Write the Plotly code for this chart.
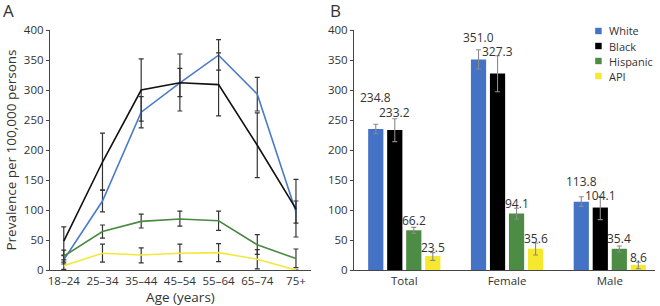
import plotly.graph_objects as go

# ---------------- data ----------------
age_groups = ["18\u201324", "25\u201334", "35\u201344", "45\u201354", "55\u201364", "65\u201374", "75+"]

white_age = [17, 115, 263, 312, 358, 293, 97]
white_age_hi = [24, 133, 289, 336, 384, 321, 115]
white_age_lo = [10, 97, 237, 289, 333, 265, 78]

black_age = [48, 180, 300, 312, 309, 208, 102]
black_age_hi = [72, 228, 352, 360, 362, 262, 151]
black_age_lo = [25, 133, 248, 265, 257, 154, 55]

hisp_age = [23, 64, 81, 85, 82, 42, 19]
hisp_age_hi = [33, 75, 93, 98, 98, 59, 35]
hisp_age_lo = [13, 53, 70, 73, 66, 26, 4]

api_age = [7, 28, 25, 28, 29, 18, 0]
api_age_hi = [17, 43, 37, 43, 44, 34, 0]
api_age_lo = [1, 13, 12, 14, 14, 2, 0]

groups = ["Total", "Female", "Male"]
race_names = ["White", "Black", "Hispanic", "API"]
white_grp = [234.8, 351.0, 113.8]
white_grp_hi = [243, 367, 122]
white_grp_lo = [227, 335, 106]
black_grp = [233.2, 327.3, 104.1]
black_grp_hi = [252, 357, 122]
black_grp_lo = [214, 297, 84]
hisp_grp = [66.2, 94.1, 35.4]
hisp_grp_hi = [71, 103, 40]
hisp_grp_lo = [61, 85, 30]
api_grp = [23.5, 35.6, 8.6]
api_grp_hi = [29, 45, 13]
api_grp_lo = [16, 25, 2]

y_ticks = [0, 50, 100, 150, 200, 250, 300, 350, 400]

# ---------------- styles ----------------
line_colors = ["#4a7bcb", "#111111", "#4a8a40", "#f3e83a"]
bar_colors = ["#4472c4", "#000000", "#4c8c44", "#f6e82e"]
FONT = "Open Sans"
TXT = "#333333"
W, H = 660, 306
MT, MB = 30, 36
PH = H - MT - MB


def py2paper(py):
    return (H - MB - py) / PH


fig = go.Figure()

age_series = [
    (white_age, white_age_hi, white_age_lo),
    (black_age, black_age_hi, black_age_lo),
    (hisp_age, hisp_age_hi, hisp_age_lo),
    (api_age, api_age_hi, api_age_lo),
]
for (v, hi, lo), col, name in zip(age_series, line_colors, race_names):
    fig.add_trace(go.Scatter(
        x=age_groups, y=v, mode="lines", name=name, showlegend=False,
        line=dict(color=col, width=1.6),
        error_y=dict(type="data", symmetric=False,
                     array=[h - a for h, a in zip(hi, v)],
                     arrayminus=[a - l for a, l in zip(v, lo)],
                     color="#333333", thickness=1.2, width=2.5),
        xaxis="x", yaxis="y",
    ))

grp_series = [
    (white_grp, white_grp_hi, white_grp_lo),
    (black_grp, black_grp_hi, black_grp_lo),
    (hisp_grp, hisp_grp_hi, hisp_grp_lo),
    (api_grp, api_grp_hi, api_grp_lo),
]
for (v, hi, lo), col, name in zip(grp_series, bar_colors, race_names):
    fig.add_trace(go.Bar(
        x=groups, y=v, name=name, showlegend=False,
        marker=dict(color=col, line=dict(width=0)),
        error_y=dict(type="data", symmetric=False,
                     array=[h - a for h, a in zip(hi, v)],
                     arrayminus=[a - l for a, l in zip(v, lo)],
                     color="#8a8a8a", thickness=1.1, width=2.5),
        xaxis="x2", yaxis="y2",
    ))

# value labels above bars
label_shift = [
    [32, 22.5, 21],
    [18, 22.5, 13],
    [10, 10.5, 11],
    [9, 10.5, 8],
]
bar_offsets = [-28.6, -9.5, 9.5, 28.6]
for si, (v, _, _) in enumerate(grp_series):
    for gi, g in enumerate(groups):
        fig.add_annotation(
            x=g, y=v[gi], xref="x2", yref="y2", text=f"{v[gi]:.1f}",
            showarrow=False, xshift=bar_offsets[si], yshift=label_shift[si][gi],
            font=dict(family=FONT, size=12, color=TXT), yanchor="middle",
            height=12, borderpad=0,
        )

# compact legend (as in the original)
leg_rows = [31, 46, 61, 76]
for name, col, yy in zip(race_names, bar_colors, leg_rows):
    fig.add_shape(type="rect", xref="paper", yref="paper",
                  x0=595 / W, x1=601.5 / W, y0=py2paper(yy + 3.2), y1=py2paper(yy - 3.2),
                  fillcolor=col, line=dict(width=0))
    fig.add_annotation(x=608 / W, y=py2paper(yy), xref="paper", yref="paper", text=name,
                       showarrow=False, xanchor="left", yanchor="middle",
                       height=13, borderpad=0,
                       font=dict(family=FONT, size=11, color=TXT))

fig.add_annotation(x=0.0, y=1.0, xref="paper", yref="paper", text="A",
                   showarrow=False, xanchor="left", yanchor="bottom", yshift=7,
                   borderpad=0, font=dict(family=FONT, size=17, color=TXT))
fig.add_annotation(x=328 / W, y=1.0, xref="paper", yref="paper", text="B",
                   showarrow=False, xanchor="left", yanchor="bottom", yshift=7,
                   borderpad=0, font=dict(family=FONT, size=17, color=TXT))

yax = dict(range=[0, 400], tickvals=y_ticks, showgrid=False, zeroline=False,
           showline=True, linecolor="#444444", linewidth=1, ticks="outside",
           ticklen=3, tickcolor="#444444",
           tickfont=dict(family=FONT, size=11.5, color=TXT))

fig.update_layout(
    width=W, height=H,
    margin=dict(l=0, r=0, t=MT, b=MB),
    paper_bgcolor="white", plot_bgcolor="white",
    font=dict(family=FONT, color=TXT),
    barmode="group", bargap=0.26, bargroupgap=0.2,
    xaxis=dict(domain=[48 / W, 310 / W], type="category", range=[-0.36, 6.39],
               showgrid=False, showline=True, linecolor="#444444", linewidth=1,
               ticks="", tickfont=dict(family=FONT, size=11.5, color=TXT),
               title=dict(text="Age (years)", standoff=2,
                          font=dict(family=FONT, size=13.5, color=TXT))),
    yaxis=dict(**yax, anchor="x",
               title=dict(text="Prevalence per 100,000 persons", standoff=4,
                          font=dict(family=FONT, size=13.5, color=TXT))),
    xaxis2=dict(domain=[353 / W, 655 / W], type="category", range=[-0.49, 2.44],
                showgrid=False, showline=True, linecolor="#444444", linewidth=1,
                ticks="", tickfont=dict(family=FONT, size=11.5, color=TXT),
                anchor="y2"),
    yaxis2=dict(**yax, anchor="x2"),
    showlegend=False,
)

fig.write_html("out.html", config={"displayModeBar": False},
               post_script="document.body.style.margin='0';document.body.style.overflow='hidden';")
